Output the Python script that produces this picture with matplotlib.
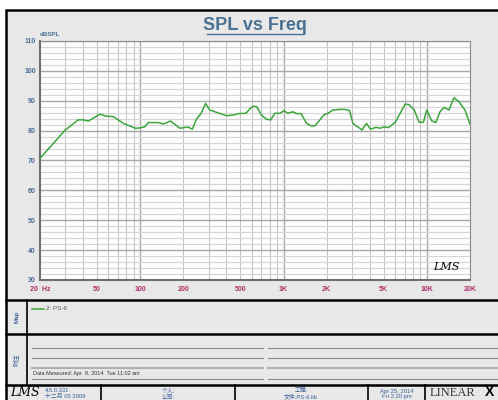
import numpy as np
import matplotlib
matplotlib.use("Agg")
import matplotlib.pyplot as plt
from matplotlib.patches import Rectangle
from matplotlib.lines import Line2D
from matplotlib.ticker import FixedLocator, NullFormatter

plt.rcParams['font.family'] = ['Liberation Sans', 'Noto Sans CJK SC', 'DejaVu Sans']

# response curve (Hz, dB SPL)
freq = [20, 30, 37, 40, 43.5, 52.4, 58.4, 65, 76.5, 92.6, 99, 108, 114, 134, 145,
        163, 189, 216, 231, 247, 266, 286, 306, 342, 400, 445, 484, 547, 583,
        615, 650, 702, 762, 815, 869, 943, 1010, 1068, 1160, 1235, 1325, 1450,
        1555, 1660, 1915, 2050, 2200, 2470, 2680, 2890, 3050, 3530, 3790, 4040,
        4420, 4710, 5050, 5390, 6020, 7070, 7570, 8160, 8840, 9460, 9990, 10800,
        11560, 12350, 13170, 14260, 15460, 16740, 18440, 20000]
spl = [70.7, 80.2, 83.6, 83.6, 83.2, 85.5, 84.8, 84.7, 82.4, 80.8, 80.9, 81.3,
       82.7, 82.7, 82.2, 83.2, 80.8, 81.2, 80.5, 83.8, 85.8, 89.1, 86.9, 86.1,
       85.0, 85.2, 85.7, 85.8, 87.3, 88.2, 88.0, 85.2, 83.8, 83.6, 85.8, 85.8,
       86.7, 85.8, 86.3, 85.7, 85.7, 82.4, 81.6, 81.6, 85.3, 85.8, 86.9, 87.1,
       87.1, 86.7, 82.4, 80.2, 82.4, 80.5, 81.1, 80.8, 81.3, 81.0, 82.8, 88.9,
       88.6, 86.9, 82.8, 82.8, 86.9, 83.3, 82.7, 86.3, 87.8, 86.9, 91.0, 89.7,
       86.9, 82.2]

xticks = [20, 50, 100, 200, 500, 1000, 2000, 5000, 10000, 20000]
xlabels = ['20  Hz', '50', '100', '200', '500', '1K', '2K', '5K', '10K', '20K']
yticks = list(range(30, 111, 10))

W, H = 498, 400
BLUE = '#3b5f9a'


def fx(x):
    return x / W


def fy(y):
    return 1 - y / H


def hline(fig, x0, x1, y, color='black', lw=1.0):
    fig.add_artist(Line2D([fx(x0), fx(x1)], [fy(y), fy(y)], color=color, lw=lw))


def vline(fig, x, y0, y1, color='black', lw=1.0):
    fig.add_artist(Line2D([fx(x), fx(x)], [fy(y0), fy(y1)], color=color, lw=lw))


fig = plt.figure(figsize=(W / 100, H / 100), dpi=100)
fig.patch.set_facecolor('white')

# outer gray frame, kept behind the axes
fig.add_artist(Rectangle((fx(6), fy(405)), fx(520) - fx(6), fy(10) - fy(405),
                         facecolor='#e8e8e8', edgecolor='black', lw=1.8,
                         zorder=-10))

fig.text(fx(255), fy(25), 'SPL vs Freq', ha='center', va='center',
         fontsize=13, fontweight='bold', color='#4b7192')
hline(fig, 207, 304, 33.5, color='#4b7192', lw=1.0)

# plot area
ax = fig.add_axes([fx(40), fy(280), fx(470) - fx(40), fy(41) - fy(280)])
ax.set_facecolor('white')
ax.set_xscale('log')
ax.set_xlim(20, 20000)
ax.set_ylim(30, 110)

minors = [m * d for d in [10, 100, 1000, 10000] for m in range(2, 10)
          if 20 <= m * d <= 20000]
for f in minors:
    ax.axvline(f, color='#c4c4c4', lw=0.8, zorder=0)
for f in [100, 1000, 10000]:
    ax.axvline(f, color='#a8a8a8', lw=1.0, zorder=0)
for v in np.arange(30, 110, 2):
    ax.axhline(v, color='#d4d4d4', lw=0.8, zorder=0)
for v in yticks:
    ax.axhline(v, color='#a8a8a8', lw=1.0, zorder=0)

ax.plot(freq, spl, color='#3aa63a', lw=1.1, zorder=3)

ax.xaxis.set_major_locator(FixedLocator(xticks))
ax.xaxis.set_minor_locator(FixedLocator([]))
ax.xaxis.set_minor_formatter(NullFormatter())
ax.set_xticklabels(xlabels)
ax.set_yticks(yticks)
ax.tick_params(length=0, labelsize=5)
ax.tick_params(axis='x', colors='#b0306a', pad=4)
ax.tick_params(axis='y', colors='#4d6f95', pad=3)
for lab in ax.get_xticklabels() + ax.get_yticklabels():
    lab.set_fontweight('bold')
for side in ['left', 'bottom']:
    ax.spines[side].set_color('#707070')
    ax.spines[side].set_linewidth(1.5)
for side in ['top', 'right']:
    ax.spines[side].set_color('#8c8c8c')
    ax.spines[side].set_linewidth(0.8)

fig.text(fx(40), fy(37), 'dBSPL', fontsize=4.5, fontweight='bold',
         color='#4d6f95', va='bottom')
ax.text(0.975, 0.035, 'LMS', transform=ax.transAxes, ha='right', va='bottom',
        fontsize=8, style='italic', color='black', family='DejaVu Serif')

# lower panels
hline(fig, 6, 498, 300, lw=1.8)
hline(fig, 6, 498, 334, lw=1.8)
hline(fig, 6, 498, 385, lw=1.8)
vline(fig, 27, 300, 385, lw=1.2)

fig.text(fx(17), fy(317), 'Map', rotation=90, ha='center', va='center',
         fontsize=4.5, fontweight='bold', color=BLUE)
fig.text(fx(17), fy(360), '附注', rotation=90, ha='center', va='center',
         fontsize=4.5, color=BLUE)

fig.add_artist(Line2D([fx(32), fx(44)], [fy(309), fy(309)], color='#3aa63a', lw=1.1))
fig.text(fx(46), fy(309), '2: PS-6', fontsize=4.5, color='#555555', va='center')

for yy, col, lw in [(347.5, '#8a8a8a', 0.8), (357.5, '#8a8a8a', 0.8),
                    (368, '#b0b0b0', 1.5), (378.5, '#8a8a8a', 0.8)]:
    hline(fig, 32, 263, yy, color=col, lw=lw)
    hline(fig, 268, 498, yy, color=col, lw=lw)
fig.text(fx(33), fy(376.5), 'Data Measured: Apr  8, 2014  Tue 11:02 am',
         fontsize=4, color='#333333', va='bottom')

# footer
for xx in [101, 235, 368, 425]:
    vline(fig, xx, 385, 402, lw=1.2)
fig.text(fx(10), fy(399.5), 'LMS', fontsize=9, style='italic', color='black',
         family='DejaVu Serif', va='bottom')
fs = 4.2
fig.text(fx(45), fy(391), '4.5.0.331', fontsize=fs, color=BLUE, va='center')
fig.text(fx(45), fy(396.5), '十二月 05 2009', fontsize=fs, color=BLUE, va='center')
fig.text(fx(168), fy(391), '个人:', fontsize=fs, color=BLUE, va='center', ha='center')
fig.text(fx(168), fy(396.5), '公司:', fontsize=fs, color=BLUE, va='center', ha='center')
fig.text(fx(301), fy(391), '工程:', fontsize=fs, color=BLUE, va='center', ha='center')
fig.text(fx(301), fy(396.5), '文件:PS-6.lib', fontsize=fs, color=BLUE, va='center', ha='center')
fig.text(fx(397), fy(391), 'Apr 25, 2014', fontsize=fs, color=BLUE, va='center', ha='center')
fig.text(fx(397), fy(396.5), 'Fri 2:20 pm', fontsize=fs, color=BLUE, va='center', ha='center')
fig.text(fx(430), fy(399.5), 'LINEAR', fontsize=9, color='#333333', va='bottom',
         family='Liberation Serif')
fig.text(fx(485), fy(399.5), 'X', fontsize=10, fontweight='bold', color='black',
         va='bottom')

fig.savefig('out.png', dpi=100, facecolor='white')
